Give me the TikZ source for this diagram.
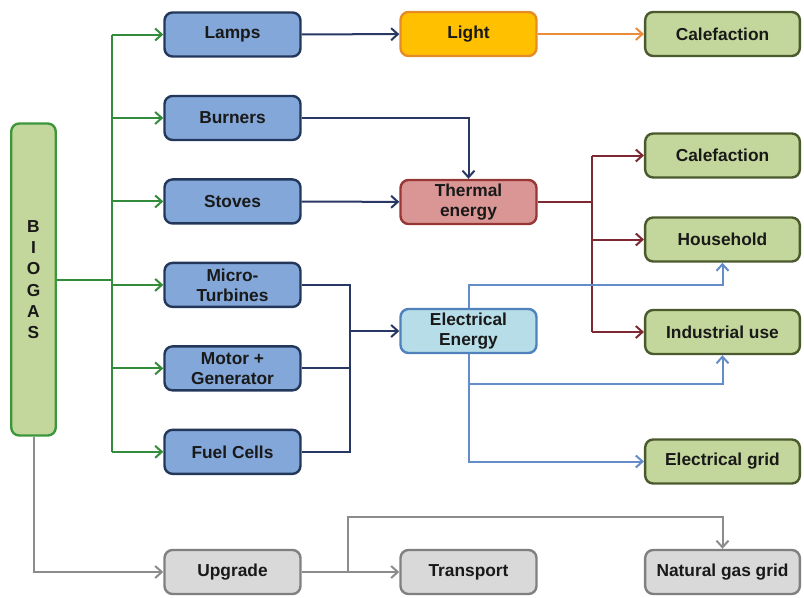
\documentclass[tikz,border=0pt]{standalone}
\usepackage{fontspec}
\setmainfont{Liberation Sans}
\usetikzlibrary{arrows.meta}

\definecolor{devfill}{RGB}{130,167,216}
\definecolor{devdraw}{RGB}{35,55,90}
\definecolor{usefill}{RGB}{195,214,155}
\definecolor{usedraw}{RGB}{75,90,45}
\definecolor{gasdraw}{RGB}{60,150,60}
\definecolor{lightfill}{RGB}{255,192,0}
\definecolor{lightdraw}{RGB}{228,140,40}
\definecolor{heatfill}{RGB}{217,150,148}
\definecolor{heatdraw}{RGB}{150,55,53}
\definecolor{elecfill}{RGB}{183,221,232}
\definecolor{elecdraw}{RGB}{79,129,189}
\definecolor{greyfill}{RGB}{217,217,217}
\definecolor{greydraw}{RGB}{128,128,128}
\definecolor{gline}{RGB}{50,140,60}
\definecolor{nline}{RGB}{40,55,100}
\definecolor{oline}{RGB}{235,140,60}
\definecolor{rline}{RGB}{125,40,50}
\definecolor{eline}{RGB}{100,140,200}
\definecolor{yline}{RGB}{140,140,140}

\begin{document}
\begin{tikzpicture}[x=0.75pt,y=-0.75pt,
  box/.style = {draw, rounded corners=6pt, line width=1.8pt, align=center, inner sep=0pt,
    font=\fontsize{13}{15}\selectfont\bfseries, text=black!90, minimum height=33pt},
  dev/.style = {box, draw=devdraw, fill=devfill, minimum width=102pt},
  mid/.style = {box, minimum width=102pt},
  use/.style = {box, draw=usedraw, fill=usefill, minimum width=116pt},
  grey/.style = {box, draw=greydraw, fill=greyfill},
  link/.style = {line width=1.5pt},
  arr/.style = {link, -{Straight Barb[length=5pt,width=9pt]}},
  node distance={62.6pt}]
\useasboundingbox (0,0) rectangle (804,597);

% biogas
\node[box, draw=gasdraw, fill=usefill, minimum width=33.4pt, minimum height=234pt,
  font=\fontsize{13}{16}\selectfont\bfseries] (biogas) at (33.5,279.5) {B\\I\\O\\G\\A\\S};

% devices
\node[dev] (lamps) at (232.5,34.5) {Lamps};
\node[dev] (burners) [below of=lamps] {Burners};
\node[dev] (stoves) [below of=burners] {Stoves};
\node[dev] (micro) [below of=stoves] {Micro-\\Turbines};
\node[dev] (motor) [below of=micro] {Motor +\\Generator};
\node[dev] (cells) [below of=motor] {Fuel Cells};
\node[grey, minimum width=102pt] (upgrade) at (232.5,572) {Upgrade};

% energy forms
\node[mid, draw=lightdraw, fill=lightfill] (light) at (468.5,34) {Light};
\node[mid, draw=heatdraw, fill=heatfill] (thermal) at (468.5,202) {Thermal\\energy};
\node[mid, draw=elecdraw, fill=elecfill] (elec) at (468.5,331) {Electrical\\Energy};
\node[grey, minimum width=102pt] (transport) at (468.5,572) {Transport};

% uses
\node[use] (calef1) at (722.5,34) {Calefaction};
\node[use] (calef2) at (722.5,155.5) {Calefaction};
\node[use] (house) at (722.5,239.5) {Household};
\node[use] (indus) at (722.5,332) {Industrial use};
\node[use] (grid) at (722.5,461.5) {Electrical grid};
\node[grey, minimum width=116pt] (natgas) at (722.5,572) {Natural gas grid};

% branch points
\coordinate (g0) at (112,279.5);
\coordinate (n0) at (350,331);
\coordinate (r0) at (592,202);
\coordinate (e1) at (0,285);
\coordinate (e2) at (0,384);
\coordinate (u0) at (348,517);

% biogas to devices
\draw[link, gline] (biogas.east) -- (g0);
\draw[link, gline] (g0 |- lamps) -- (g0 |- cells);
\draw[arr, gline] (g0 |- lamps) -- (lamps);
\draw[arr, gline] (g0 |- burners) -- (burners);
\draw[arr, gline] (g0 |- stoves) -- (stoves);
\draw[arr, gline] (g0 |- micro) -- (micro);
\draw[arr, gline] (g0 |- motor) -- (motor);
\draw[arr, gline] (g0 |- cells) -- (cells);

% devices to energy
\draw[arr, nline] (lamps) -- (light);
\draw[arr, nline] (burners.east) -| (thermal.north);
\draw[arr, nline] (stoves) -- (thermal);
\draw[link, nline] (micro.east) -- (n0 |- micro) -- (n0 |- cells) -- (cells.east);
\draw[link, nline] (motor.east) -- (n0 |- motor);
\draw[arr, nline] (n0) -- (elec);

% energy to uses
\draw[arr, oline] (light) -- (calef1);
\draw[link, rline] (thermal) -- (r0);
\draw[link, rline] (r0 |- calef2) -- (r0 |- indus);
\draw[arr, rline] (r0 |- calef2) -- (calef2);
\draw[arr, rline] (r0 |- house) -- (house);
\draw[arr, rline] (r0 |- indus) -- (indus);
\draw[arr, eline] (elec.north) -- (elec.north |- e1) -| (house.south);
\draw[arr, eline] (elec.south) |- (grid.west);
\draw[arr, eline] (elec.south |- e2) -| (indus.south);

% upgrade
\draw[arr, yline] (biogas.south) |- (upgrade.west);
\draw[arr, yline] (upgrade) -- (transport);
\draw[arr, yline] (u0 |- upgrade) -- (u0) -| (natgas.north);
\end{tikzpicture}
\end{document}
